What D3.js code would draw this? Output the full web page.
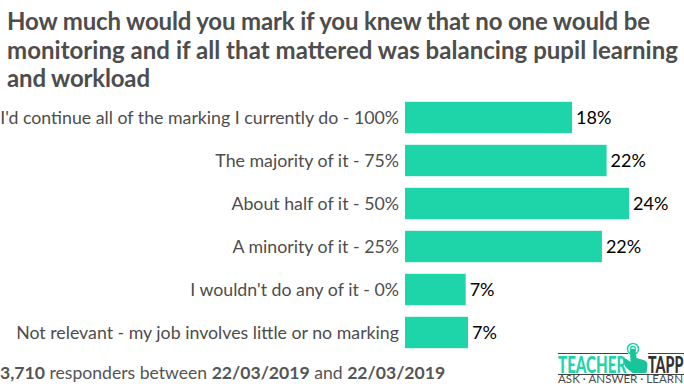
<!DOCTYPE html>
<html>
<head>
<meta charset="utf-8">
<script src="https://cdnjs.cloudflare.com/ajax/libs/d3/7.8.5/d3.min.js"></script>
<style>
  body { margin: 0; background: #fff; }
  text { font-family: Lato, sans-serif; }
</style>
</head>
<body>
<div id="chart"></div>
<script>
var titleLines = [
  "How much would you mark if you knew that no one would be",
  "monitoring and if all that mattered was balancing pupil learning",
  "and workload"
];
var categories = [
  "I'd continue all of the marking I currently do - 100%",
  "The majority of it - 75%",
  "About half of it - 50%",
  "A minority of it - 25%",
  "I wouldn't do any of it - 0%",
  "Not relevant - my job involves little or no marking"
];
// rounded labels, and the lengths
var values = [18, 22, 24, 22, 7, 7];
var barValues = [17.9, 21.6, 24, 21.1, 6.5, 6.75];

var svg = d3.select("#chart").append("svg").attr("width", 684).attr("height", 384);

var x = d3.scaleLinear().domain([0, 24]).range([405, 629]);
var y = d3.scaleBand().domain(categories).range([96, 354]).paddingInner(0.27).paddingOuter(0.135);

// title, each line fitted to its width in the reference
var titleWidths = [643, 671, 143];
svg.append("g").selectAll("text").data(titleLines).enter().append("text")
  .attr("x", 7)
  .attr("y", function (d, i) { return 30 + i * 28.5; })
  .attr("font-size", 24)
  .attr("font-weight", 700)
  .attr("fill", "#4d4d4d")
  .attr("textLength", function (d, i) { return titleWidths[i]; })
  .text(function (d) { return d; });

// bars
svg.append("g").selectAll("rect").data(categories).enter().append("rect")
  .attr("x", x(0))
  .attr("y", function (d) { return y(d); })
  .attr("width", function (d, i) { return x(barValues[i]) - x(0); })
  .attr("height", y.bandwidth())
  .attr("fill", "#1dd5a8");

// category labels
svg.append("g").selectAll("text").data(categories).enter().append("text")
  .attr("x", 399)
  .attr("y", function (d) { return y(d) + y.bandwidth() / 2 + 6; })
  .attr("text-anchor", "end")
  .attr("font-size", 17.75)
  .attr("fill", "#4d4d4d")
  .text(function (d) { return d; });

// value labels
svg.append("g").selectAll("text").data(categories).enter().append("text")
  .attr("x", function (d, i) { return x(barValues[i]) + 4; })
  .attr("y", function (d) { return y(d) + y.bandwidth() / 2 + 6; })
  .attr("font-size", 18)
  .attr("fill", "#000")
  .text(function (d, i) { return values[i] + "%"; });

// footer
var foot = svg.append("text").attr("x", 0).attr("y", 379).attr("font-size", 17.6).attr("fill", "#555");
foot.append("tspan").attr("font-weight", 700).text("3,710");
foot.append("tspan").text(" responders between ");
foot.append("tspan").attr("font-weight", 700).text("22/03/2019");
foot.append("tspan").text(" and ");
foot.append("tspan").attr("font-weight", 700).text("22/03/2019");

// logo, words squeezed with a scale so they stay tall and narrow
var logo = svg.append("g");
logo.append("path").attr("d", "M558 353.5H628M648 353.5H684M558 374.5H684").attr("stroke", "#444").attr("stroke-width", 1);
logo.append("text").attr("transform", "translate(558,373) scale(0.62,1)").attr("font-size", 23).attr("font-weight", 900)
  .attr("textLength", 110).attr("lengthAdjust", "spacingAndGlyphs").attr("fill", "#1dd5a8").text("TEACHER");
logo.append("text").attr("transform", "translate(648,373) scale(0.62,1)").attr("font-size", 23).attr("font-weight", 900)
  .attr("textLength", 57).attr("lengthAdjust", "spacingAndGlyphs").attr("fill", "#333").text("TAPP");
logo.append("text").attr("x", 558).attr("y", 382.5).attr("font-size", 11)
  .attr("textLength", 125).attr("lengthAdjust", "spacingAndGlyphs").attr("fill", "#4d4d4d").text("ASK · ANSWER · LEARN");
// pointing hand with touch rings
logo.append("circle").attr("cx", 633).attr("cy", 349).attr("r", 5.5).attr("fill", "none").attr("stroke", "#1dd5a8").attr("stroke-width", 1.5);
logo.append("circle").attr("cx", 633).attr("cy", 349).attr("r", 2.5).attr("fill", "none").attr("stroke", "#1dd5a8").attr("stroke-width", 1.3);
logo.append("path").attr("fill", "#19c49a")
  .attr("d", "M630 350q3-2.5 5.5 0l1 8 7 2q4 1 4 5l-1 8h-14l-7-6-2.500-7q1-2 3.500-1l4 3z");
</script>
</body>
</html>
